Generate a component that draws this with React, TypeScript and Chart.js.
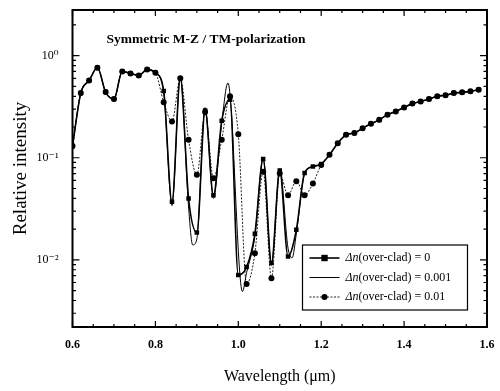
import React, { useEffect, useRef } from 'react';
import { Chart, registerables } from 'chart.js';

Chart.register(...registerables);

// Wavelength grid (µm) for the marker series
const wavelengths = [
  0.60, 0.62, 0.64, 0.66, 0.68, 0.70, 0.72, 0.74, 0.76, 0.78,
  0.80, 0.82, 0.84, 0.86, 0.88, 0.90, 0.92, 0.94, 0.96, 0.98,
  1.00, 1.02, 1.04, 1.06, 1.08, 1.10, 1.12, 1.14, 1.16, 1.18,
  1.20, 1.22, 1.24, 1.26, 1.28, 1.30, 1.32, 1.34, 1.36, 1.38,
  1.40, 1.42, 1.44, 1.46, 1.48, 1.50, 1.52, 1.54, 1.56, 1.58,
];

// Δn(over-clad) = 0  (squares)
const intensityDn0 = [
  0.13, 0.43, 0.57, 0.76, 0.44, 0.376, 0.70, 0.67, 0.64, 0.73,
  0.68, 0.45, 0.037, 0.60, 0.04, 0.0185, 0.29, 0.043, 0.23, 0.37,
  0.0071, 0.0085, 0.018, 0.097, 0.0093, 0.075, 0.0108, 0.0197, 0.071, 0.082,
  0.087, 0.107, 0.139, 0.168, 0.175, 0.195, 0.215, 0.235, 0.264, 0.284,
  0.311, 0.339, 0.356, 0.376, 0.40, 0.41, 0.43, 0.437, 0.447, 0.464,
];

// Δn(over-clad) = 0.01  (circles)
const intensityDn01 = [
  0.13, 0.43, 0.57, 0.76, 0.44, 0.376, 0.70, 0.67, 0.64, 0.73,
  0.68, 0.35, 0.227, 0.60, 0.15, 0.068, 0.28, 0.063, 0.15, 0.40,
  0.17, 0.0058, 0.0116, 0.073, 0.0066, 0.07, 0.043, 0.059, 0.043, 0.056,
  0.085, 0.107, 0.139, 0.168, 0.175, 0.195, 0.215, 0.235, 0.264, 0.284,
  0.311, 0.339, 0.356, 0.376, 0.40, 0.41, 0.43, 0.437, 0.447, 0.464,
];

// Δn(over-clad) = 0.001  (plain line, own sampling)
const wavelengthsDn001 = [
  0.60, 0.62, 0.64, 0.66, 0.68, 0.70, 0.72, 0.74, 0.76, 0.78,
  0.80, 0.82, 0.84, 0.86, 0.88, 0.89, 0.90, 0.92, 0.94, 0.96,
  0.975, 1.01, 1.02, 1.04, 1.06, 1.08, 1.10, 1.12, 1.13, 1.14,
  1.16, 1.18, 1.20, 1.22, 1.24, 1.26, 1.28, 1.30, 1.32, 1.34,
  1.36, 1.38, 1.40, 1.42, 1.44, 1.46, 1.48, 1.50, 1.52, 1.54,
  1.56, 1.58,
];
const intensityDn001 = [
  0.13, 0.43, 0.57, 0.76, 0.44, 0.376, 0.70, 0.67, 0.64, 0.73,
  0.68, 0.44, 0.034, 0.62, 0.033, 0.014, 0.016, 0.31, 0.04, 0.22,
  0.54, 0.0049, 0.0075, 0.017, 0.10, 0.0088, 0.078, 0.013, 0.0105, 0.018,
  0.07, 0.082, 0.087, 0.107, 0.139, 0.168, 0.175, 0.195, 0.215, 0.235,
  0.264, 0.284, 0.311, 0.339, 0.356, 0.376, 0.40, 0.41, 0.43, 0.437,
  0.447, 0.464,
];

const seriesPrefix = ['Δn', 'Δn', 'Δn'];
const seriesSuffix = ['(over-clad) = 0', '(over-clad) = 0.001', '(over-clad) = 0.01'];

const xTicks = [0.6, 0.8, 1.0, 1.2, 1.4, 1.6];
const xMinorStep = 0.05;
const yTicks = [0.01, 0.1, 1];
const yTickLabels = ['10⁻²', '10⁻¹', '10⁰'];
const chartTitle = 'Symmetric M-Z / TM-polarization';
const xTitle = 'Wavelength (μm)';
const yTitle = 'Relative intensity';

const SERIF = '"Liberation Serif", "DejaVu Serif", serif';

const framePlugin = {
  id: 'frameAndExtras',
  afterDatasetsDraw(chart: any) {
    const { ctx, chartArea: a, scales } = chart;
    const xs = scales.x;
    const ys = scales.y;
    ctx.save();
    ctx.strokeStyle = '#000';
    // frame
    ctx.lineWidth = 2;
    ctx.strokeRect(a.left, a.top, a.right - a.left, a.bottom - a.top);
    // x ticks (inward, bottom and top)
    ctx.lineWidth = 1.2;
    const nMinor = Math.round((xs.max - xs.min) / xMinorStep);
    for (let i = 0; i <= nMinor; i++) {
      const v = xs.min + i * xMinorStep;
      const px = xs.getPixelForValue(v);
      const major = xTicks.some((t) => Math.abs(t - v) < 1e-6);
      const len = major ? 6 : 3;
      ctx.beginPath();
      ctx.moveTo(px, a.bottom);
      ctx.lineTo(px, a.bottom - len);
      ctx.moveTo(px, a.top);
      ctx.lineTo(px, a.top + len);
      ctx.stroke();
    }
    // y ticks (inward, left and right)
    for (let d = -3; d <= 0; d++) {
      for (let m = 1; m <= 9; m++) {
        const v = m * Math.pow(10, d);
        if (v < ys.min || v > ys.max) continue;
        const py = ys.getPixelForValue(v);
        const len = m === 1 ? 7 : 3.5;
        ctx.beginPath();
        ctx.moveTo(a.left, py);
        ctx.lineTo(a.left + len, py);
        ctx.moveTo(a.right, py);
        ctx.lineTo(a.right - len, py);
        ctx.stroke();
      }
    }
    // inner title
    ctx.fillStyle = '#000';
    ctx.font = `bold 13.5px ${SERIF}`;
    ctx.textBaseline = 'middle';
    ctx.textAlign = 'left';
    ctx.fillText(chartTitle, a.left + 34, a.top + 30);

    // legend
    const lx = a.left + 230;
    const ly = a.top + 235;
    const lw = 165;
    const lh = 65;
    ctx.fillStyle = '#fff';
    ctx.fillRect(lx, ly, lw, lh);
    ctx.lineWidth = 1.2;
    ctx.strokeRect(lx, ly, lw, lh);
    chart.data.datasets.forEach((ds: any, i: number) => {
      const ry = ly + 13 + i * 19.5;
      ctx.save();
      ctx.strokeStyle = ds.borderColor;
      ctx.lineWidth = ds.borderWidth;
      ctx.setLineDash(ds.borderDash || []);
      ctx.beginPath();
      ctx.moveTo(lx + 7, ry);
      ctx.lineTo(lx + 37, ry);
      ctx.stroke();
      ctx.setLineDash([]);
      ctx.fillStyle = '#000';
      if (ds.pointRadius > 0) {
        const r = ds.pointRadius;
        if (ds.pointStyle === 'rect') {
          ctx.fillRect(lx + 22 - r, ry - r, 2 * r, 2 * r);
        } else {
          ctx.beginPath();
          ctx.arc(lx + 22, ry, r, 0, Math.PI * 2);
          ctx.fill();
        }
      }
      ctx.textBaseline = 'middle';
      ctx.font = `italic 12px ${SERIF}`;
      ctx.fillText(seriesPrefix[i], lx + 43, ry);
      const w = ctx.measureText(seriesPrefix[i]).width;
      ctx.font = `12px ${SERIF}`;
      ctx.fillText(seriesSuffix[i], lx + 43 + w, ry);
      ctx.restore();
    });
    ctx.restore();
  },
};

export default function App() {
  const canvasRef = useRef<HTMLCanvasElement | null>(null);

  useEffect(() => {
    document.body.style.margin = '0';
    const canvas = canvasRef.current;
    if (!canvas) return;
    const chart = new Chart(canvas, {
      type: 'line',
      data: {
        datasets: [
          {
            label: seriesPrefix[0] + seriesSuffix[0],
            data: wavelengths.map((x, i) => ({ x, y: intensityDn0[i] })),
            borderColor: '#000',
            backgroundColor: '#000',
            borderWidth: 1.6,
            pointStyle: 'rect',
            pointRadius: 3.2,
            pointBorderWidth: 0,
            cubicInterpolationMode: 'monotone',
          },
          {
            label: seriesPrefix[1] + seriesSuffix[1],
            data: wavelengthsDn001.map((x, i) => ({ x, y: intensityDn001[i] })),
            borderColor: '#000',
            backgroundColor: '#000',
            borderWidth: 1,
            pointRadius: 0,
            cubicInterpolationMode: 'monotone',
          },
          {
            label: seriesPrefix[2] + seriesSuffix[2],
            data: wavelengths.map((x, i) => ({ x, y: intensityDn01[i] })),
            borderColor: '#222',
            backgroundColor: '#000',
            borderWidth: 1,
            borderDash: [2, 1.5],
            pointStyle: 'circle',
            pointRadius: 3,
            pointBorderWidth: 0,
            cubicInterpolationMode: 'monotone',
          },
        ],
      },
      options: {
        animation: false,
        responsive: false,
        maintainAspectRatio: false,
        layout: { padding: { top: 10, right: 13, left: 0, bottom: 0 } },
        plugins: {
          legend: { display: false },
          tooltip: { enabled: false },
        },
        scales: {
          x: {
            type: 'linear',
            min: 0.6,
            max: 1.6,
            afterBuildTicks: (s: any) => {
              s.ticks = xTicks.map((v) => ({ value: v }));
            },
            afterFit: (s: any) => {
              s.height = 64;
              s.paddingLeft = 0;
              s.paddingRight = 0;
            },
            ticks: {
              callback: (v: any) => Number(v).toFixed(1),
              font: { family: SERIF, size: 12, weight: 'bold' },
              color: '#000',
              padding: 11,
              maxRotation: 0,
              autoSkip: false,
            },
            grid: { display: false, drawTicks: false },
            border: { display: false },
            title: {
              display: true,
              text: xTitle,
              color: '#000',
              font: { family: SERIF, size: 16 },
              padding: { top: 0, bottom: 5 },
            },
          },
          y: {
            type: 'logarithmic',
            min: 0.0022,
            max: 2.8,
            afterBuildTicks: (s: any) => {
              s.ticks = yTicks.map((v) => ({ value: v, major: true }));
            },
            afterFit: (s: any) => {
              s.width = 72.5;
              s.paddingTop = 0;
              s.paddingBottom = 0;
            },
            ticks: {
              callback: (_v: any, i: number) => yTickLabels[i],
              font: { family: SERIF, size: 12 },
              color: '#000',
              padding: 14,
              autoSkip: false,
            },
            grid: { display: false, drawTicks: false },
            border: { display: false },
            title: {
              display: true,
              text: yTitle,
              color: '#000',
              font: { family: SERIF, size: 19 },
              padding: { top: 10, bottom: 0 },
            },
          },
        },
      },
      plugins: [framePlugin],
    } as any);
    return () => chart.destroy();
  }, []);

  return (
    <div style={{ position: 'relative', width: 500, height: 391, background: '#fff' }}>
      <canvas ref={canvasRef} width={500} height={391} style={{ display: 'block', width: 500, height: 391 }} />
    </div>
  );
}
